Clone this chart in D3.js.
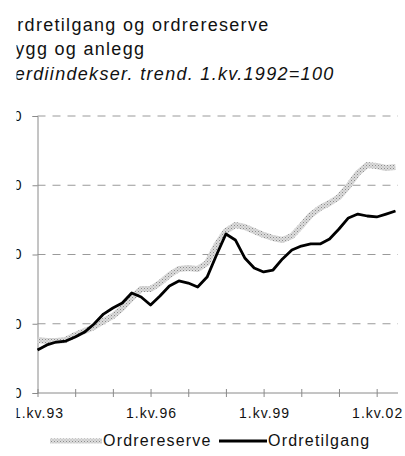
<!DOCTYPE html>
<html>
<head>
<meta charset="utf-8">
<script src="https://cdn.jsdelivr.net/npm/d3@7"></script>
<style>
  body { margin: 0; background: #fff; }
  svg { display: block; font-family: "Liberation Sans", Arial, sans-serif; }
</style>
</head>
<body>
<svg></svg>
<script>
let width = 405,
    height = 456;

// quarters from 1.kv.1993 to 3.kv.2002
let startYear = 1993;
let ordrereserve = [
    88.3, 87.5, 87.5, 88.3, 91.9, 94.8, 97.7, 102.0, 105.6, 111.4,
    118.6, 125.1, 125.1, 129.4, 135.2, 139.5, 140.3, 139.5, 143.9, 156.9,
    167.0, 171.3, 169.9, 167.0, 164.1, 161.9, 160.5, 163.4, 170.6, 178.5,
    183.6, 187.2, 191.5, 199.5, 208.8, 214.6, 213.9, 212.5, 213.2
];
let ordretilgang = [
    81.0, 84.7, 86.8, 87.5, 90.4, 94.0, 99.8, 107.0, 111.4, 115.0,
    122.2, 119.3, 113.5, 120.0, 127.3, 130.9, 129.4, 126.5, 133.7, 149.6,
    164.8, 160.5, 147.5, 140.3, 137.4, 138.8, 146.8, 153.2, 156.1, 157.6,
    157.6, 161.2, 168.4, 176.4, 179.2, 177.8, 177.1, 179.2, 181.4
];
let yTicks = [50, 100, 150, 200, 250];
let xTickYears = [1993, 1994, 1995, 1996, 1997, 1998, 1999, 2000, 2001, 2002];
let xLabelYears = [1993, 1996, 1999, 2002];
let titleLines = ["Ordretilgang og ordrereserve", "Bygg og anlegg", "Verdiindekser. trend. 1.kv.1992=100"];
let seriesNames = ["Ordrereserve", "Ordretilgang"];

let svg = d3.select("svg")
    .attr("width", width)
    .attr("height", height);

// texture for the grey series
let defs = svg.append("defs");
let pat = defs.append("pattern")
    .attr("id", "grain")
    .attr("width", 3).attr("height", 3)
    .attr("patternUnits", "userSpaceOnUse");
pat.append("rect").attr("width", 3).attr("height", 3).attr("fill", "#dcdcdc");
pat.append("rect").attr("width", 1).attr("height", 1).attr("fill", "#8c8c8c");
pat.append("rect").attr("x", 1.5).attr("y", 1.5).attr("width", 1).attr("height", 1).attr("fill", "#aaaaaa");

// the reference is cropped on the left
defs.append("clipPath").attr("id", "crop")
    .append("rect").attr("x", 16.5).attr("y", 0).attr("width", width).attr("height", height);

let root = svg.append("g").attr("clip-path", "url(#crop)");

let x = d3.scaleLinear().domain([1993, 2002.5]).range([37.5, 395.5]);
let y = d3.scaleLinear().domain([50, 250]).range([393, 116]);

// title
root.selectAll("text.title")
    .data(titleLines)
    .enter().append("text")
    .attr("class", "title")
    .attr("x", 2)
    .attr("y", (d, i) => 30.5 + i * 24.8)
    .attr("font-size", 18)
    .attr("letter-spacing", 1.3)
    .attr("font-style", (d, i) => i == 2 ? "italic" : "normal")
    .attr("fill", "#111")
    .text(d => d);

// grid
root.append("g")
    .selectAll("line")
    .data(yTicks.slice(1))
    .enter().append("line")
    .attr("x1", x(1993)).attr("x2", 398)
    .attr("y1", d => y(d)).attr("y2", d => y(d))
    .attr("stroke", "#9a9a9a")
    .attr("stroke-width", 1)
    .attr("stroke-dasharray", "8,7");

// y axis
let yAxis = root.append("g")
    .attr("transform", `translate(${x(1993)},0)`)
    .call(d3.axisLeft(y).tickValues(yTicks).tickSize(5).tickPadding(11));
yAxis.select(".domain").attr("stroke", "#8a8a8a");
yAxis.selectAll(".tick line").attr("stroke", "#8a8a8a");
yAxis.selectAll(".tick text")
    .attr("font-size", 14)
    .attr("font-family", "Liberation Sans, Arial, sans-serif")
    .attr("fill", "#111");

// x axis with crossing ticks
let xAxis = root.append("g")
    .attr("transform", `translate(0,${y(50)})`)
    .call(d3.axisBottom(x).tickValues(xTickYears).tickSize(4).tickFormat(""));
xAxis.select(".domain").attr("stroke", "#8a8a8a").attr("d", `M${x(1993)},0H398`);
xAxis.selectAll(".tick line").attr("stroke", "#8a8a8a").attr("y1", -4);

root.append("g")
    .selectAll("text")
    .data(xLabelYears)
    .enter().append("text")
    .attr("x", d => x(d) + 1)
    .attr("y", 418)
    .attr("text-anchor", "middle")
    .attr("font-size", 14)
    .attr("letter-spacing", 1)
    .attr("fill", "#111")
    .text(d => "1.kv." + String(d).slice(2));

// lines
let line = d3.line()
    .x((d, i) => x(startYear + i / 4))
    .y(d => y(d));

root.append("path")
    .datum(ordrereserve)
    .attr("d", line)
    .attr("fill", "none")
    .attr("stroke", "url(#grain)")
    .attr("stroke-width", 6)
    .attr("stroke-linejoin", "round");

root.append("path")
    .datum(ordretilgang)
    .attr("d", line)
    .attr("fill", "none")
    .attr("stroke", "#000")
    .attr("stroke-width", 2.8)
    .attr("stroke-linejoin", "round");

// legend
let legend = svg.append("g");
legend.append("line")
    .attr("x1", 50).attr("x2", 102).attr("y1", 441).attr("y2", 441)
    .attr("stroke", "url(#grain)").attr("stroke-width", 5);
legend.append("text")
    .attr("x", 103).attr("y", 446)
    .attr("font-size", 16).attr("letter-spacing", 1.2).attr("fill", "#111")
    .text(seriesNames[0]);
legend.append("line")
    .attr("x1", 219).attr("x2", 267).attr("y1", 441).attr("y2", 441)
    .attr("stroke", "#000").attr("stroke-width", 2.8);
legend.append("text")
    .attr("x", 268).attr("y", 446)
    .attr("font-size", 16).attr("letter-spacing", 1.2).attr("fill", "#111")
    .text(seriesNames[1]);
</script>
</body>
</html>
